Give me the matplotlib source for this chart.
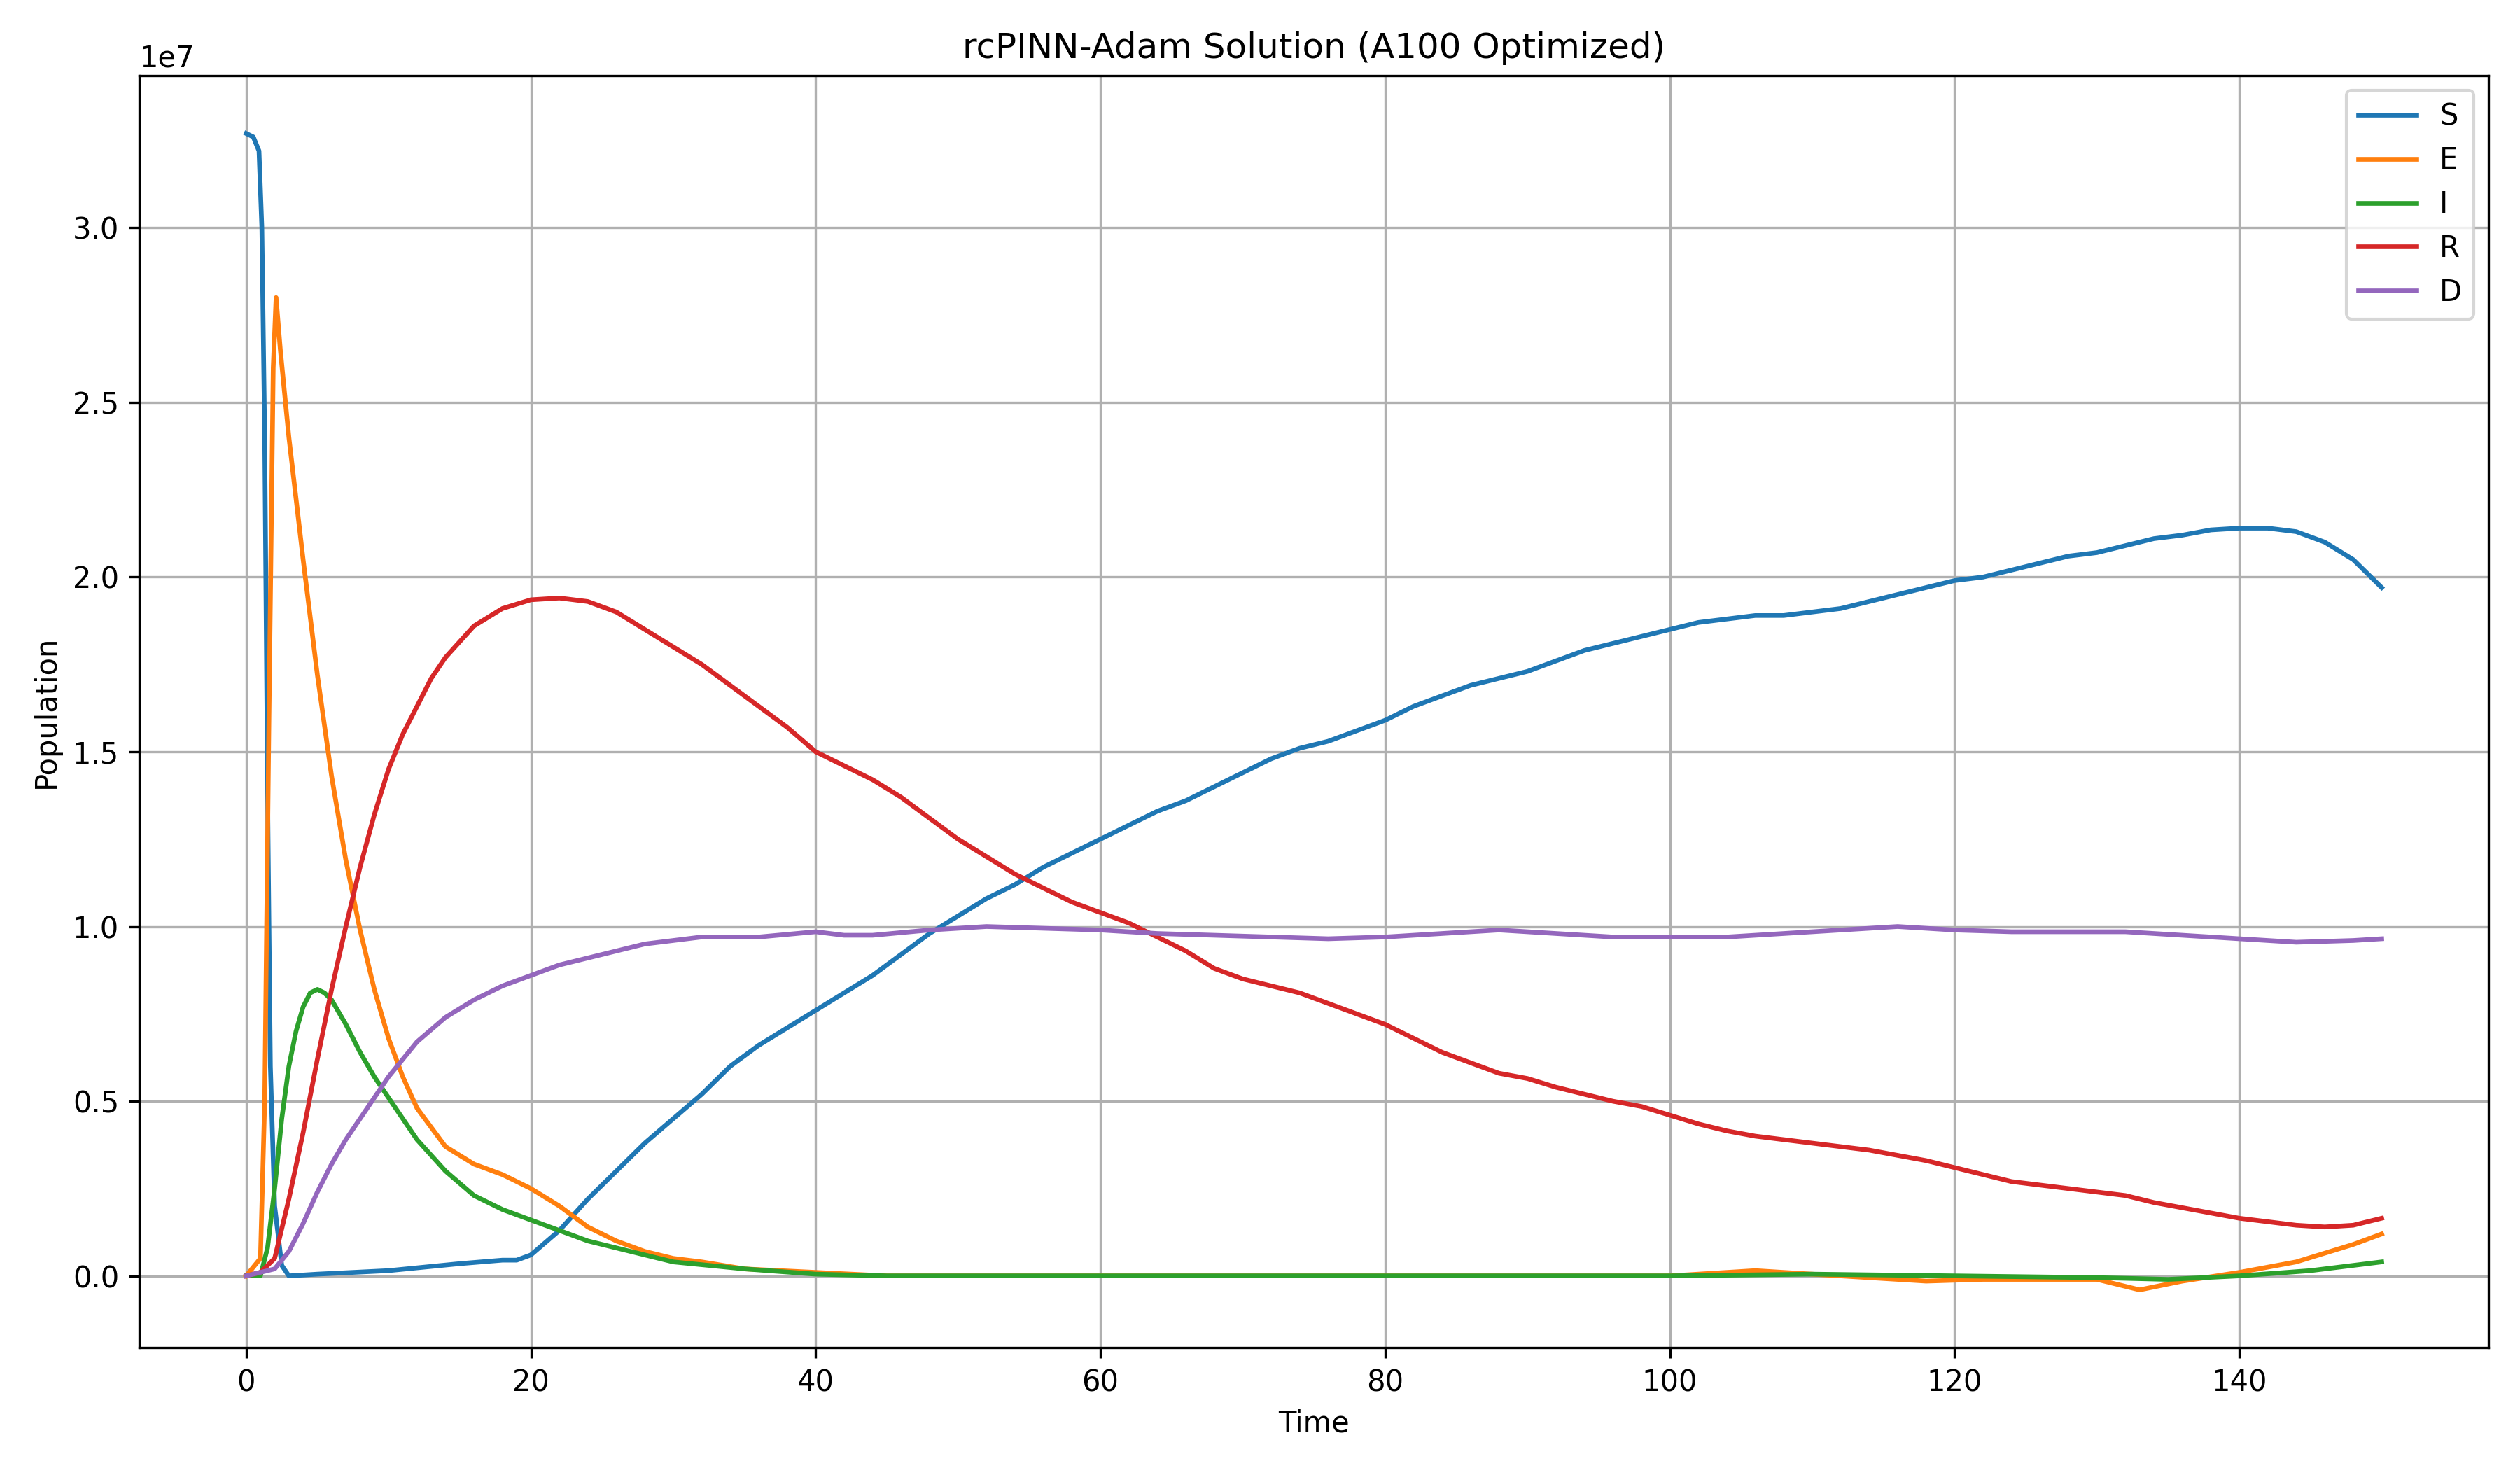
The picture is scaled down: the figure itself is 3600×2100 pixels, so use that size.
import matplotlib
matplotlib.use("Agg")
import matplotlib.pyplot as plt
import numpy as np

t_S = [0,0.5,0.9,1.1,1.3,1.5,1.7,2,2.5,3,5,10,15,18,19,20,22,24,26,28,30,32,34,36,38,40,42,44,46,48,50,52,54,56,58,60,62,64,66,68,70,72,74,76,78,80,82,84,86,88,90,92,94,96,98,100,102,104,106,108,110,112,114,116,118,120,122,124,126,128,130,132,134,136,138,140,142,144,146,148,150]
S = [3.27,3.26,3.22,3.0,2.4,1.4,0.6,0.2,0.03,0.0,0.005,0.015,0.035,0.045,0.045,0.06,0.13,0.22,0.3,0.38,0.45,0.52,0.6,0.66,0.71,0.76,0.81,0.86,0.92,0.98,1.03,1.08,1.12,1.17,1.21,1.25,1.29,1.33,1.36,1.4,1.44,1.48,1.51,1.53,1.56,1.59,1.63,1.66,1.69,1.71,1.73,1.76,1.79,1.81,1.83,1.85,1.87,1.88,1.89,1.89,1.9,1.91,1.93,1.95,1.97,1.99,2.0,2.02,2.04,2.06,2.07,2.09,2.11,2.12,2.135,2.14,2.14,2.13,2.1,2.05,1.97]

t_E = [0,1,1.3,1.6,1.9,2.1,2.4,3,4,5,6,7,8,9,10,11,12,14,16,18,20,22,24,26,28,30,32,35,40,45,50,60,70,80,90,100,106,110,118,122,130,133,136,140,144,148,150]
E = [0,0.05,0.5,1.6,2.6,2.8,2.65,2.4,2.05,1.72,1.43,1.19,0.99,0.82,0.68,0.57,0.48,0.37,0.32,0.29,0.25,0.2,0.14,0.1,0.07,0.05,0.04,0.02,0.01,0.0,0.0,0.0,0.0,0.0,0.0,0.0,0.015,0.005,-0.015,-0.01,-0.01,-0.04,-0.015,0.01,0.04,0.09,0.12]

t_I = [0,1,1.5,2,2.5,3,3.5,4,4.5,5,5.5,6,7,8,9,10,11,12,14,16,18,20,22,24,26,28,30,35,40,45,60,80,100,110,120,130,135,140,145,150]
I = [0,0,0.08,0.25,0.45,0.6,0.7,0.77,0.81,0.82,0.81,0.79,0.72,0.64,0.57,0.51,0.45,0.39,0.3,0.23,0.19,0.16,0.13,0.1,0.08,0.06,0.04,0.02,0.005,0.0,0.0,0.0,0.0,0.005,0.0,-0.005,-0.01,0.0,0.015,0.04]

t_R = [0,1,2,3,4,5,6,7,8,9,10,11,12,13,14,16,18,20,22,24,26,28,30,32,34,36,38,40,42,44,46,48,50,52,54,56,58,60,62,64,66,68,70,72,74,76,78,80,82,84,86,88,90,92,94,96,98,100,102,104,106,108,110,112,114,116,118,120,122,124,126,128,130,132,134,136,138,140,142,144,146,148,150]
R = [0,0.01,0.05,0.22,0.41,0.62,0.82,1.0,1.17,1.32,1.45,1.55,1.63,1.71,1.77,1.86,1.91,1.935,1.94,1.93,1.9,1.85,1.8,1.75,1.69,1.63,1.57,1.5,1.46,1.42,1.37,1.31,1.25,1.2,1.15,1.11,1.07,1.04,1.01,0.97,0.93,0.88,0.85,0.83,0.81,0.78,0.75,0.72,0.68,0.64,0.61,0.58,0.565,0.54,0.52,0.5,0.485,0.46,0.435,0.415,0.4,0.39,0.38,0.37,0.36,0.345,0.33,0.31,0.29,0.27,0.26,0.25,0.24,0.23,0.21,0.195,0.18,0.165,0.155,0.145,0.14,0.145,0.165]

t_D = [0,2,3,4,5,6,7,8,10,12,14,16,18,20,22,24,26,28,30,32,36,40,42,44,48,52,56,60,64,68,72,76,80,84,88,92,96,100,104,108,112,116,120,124,128,132,136,140,144,148,150]
D = [0,0.02,0.07,0.15,0.24,0.32,0.39,0.45,0.57,0.67,0.74,0.79,0.83,0.86,0.89,0.91,0.93,0.95,0.96,0.97,0.97,0.985,0.975,0.975,0.99,1.0,0.995,0.99,0.98,0.975,0.97,0.965,0.97,0.98,0.99,0.98,0.97,0.97,0.97,0.98,0.99,1.0,0.99,0.985,0.985,0.985,0.975,0.965,0.955,0.96,0.965]

fig, ax = plt.subplots(figsize=(12, 7), dpi=300)
for t, v, lab in [(t_S,S,'S'),(t_E,E,'E'),(t_I,I,'I'),(t_R,R,'R'),(t_D,D,'D')]:
    ax.plot(t, np.array(v)*1e7, label=lab, lw=1.6)
ax.set_title('rcPINN-Adam Solution (A100 Optimized)')
ax.set_xlabel('Time')
ax.set_ylabel('Population')
ax.grid(True)
ax.legend(loc='upper right')
fig.tight_layout()
fig.savefig('out.png')
